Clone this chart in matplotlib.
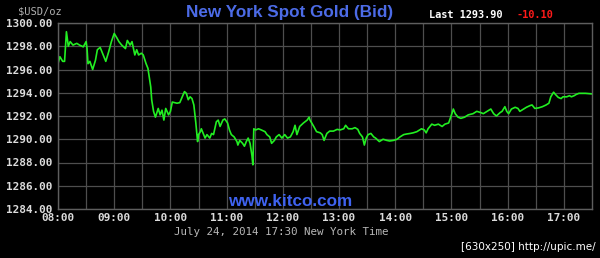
#!/bin/python3

import numpy as np
import matplotlib
matplotlib.use('Agg')
import matplotlib.pyplot as plt

# minutes after 08:00 and bid price
MINUTES = [
    0, 2, 5, 7, 9, 11, 13, 16, 20, 23, 27, 30, 31, 32, 34, 37, 40, 42, 45, 47,
    51, 54, 57, 60, 63, 65, 68, 72, 74, 77, 79, 82, 84, 86, 89, 91, 94, 96, 99, 100,
    102, 104, 107, 109, 111, 113, 115, 118, 120, 122, 127, 130, 135, 137, 139, 141, 143, 145, 147, 149,
    150, 152, 153, 155, 157, 159, 162, 164, 166, 169, 171, 173, 176, 178, 181, 183, 185, 188, 191, 192,
    194, 197, 199, 201, 203, 205, 207, 208, 209, 211, 214, 217, 221, 223, 226, 228, 231, 233, 236, 239,
    242, 245, 248, 251, 253, 255, 258, 262, 266, 268, 269, 273, 276, 280, 282, 284, 287, 290, 294, 298,
    301, 305, 307, 310, 314, 317, 320, 322, 325, 327, 329, 331, 334, 337, 339, 343, 347, 351, 354, 358,
    362, 365, 369, 372, 376, 379, 383, 386, 388, 391, 393, 395, 399, 402, 406, 410, 413, 417, 420, 422,
    424, 427, 430, 434, 438, 443, 447, 451, 454, 458, 462, 465, 468, 472, 474, 477, 479, 481, 484, 488,
    491, 493, 497, 500, 504, 506, 509, 513, 517, 521, 524, 526, 529, 531, 534, 537, 539, 543, 546, 548,
    551, 553, 556, 563, 570,
]
PRICES = [
    1296.5, 1297.1, 1296.7, 1296.7, 1299.25, 1298.0, 1298.4, 1298.1, 1298.25, 1298.1,
    1297.95, 1298.4, 1297.8, 1296.5, 1296.7, 1296.0, 1296.8, 1297.7, 1297.9, 1297.5,
    1296.7, 1297.5, 1298.4, 1299.1, 1298.7, 1298.4, 1298.1, 1297.8, 1298.5, 1298.1,
    1298.4, 1297.25, 1297.7, 1297.25, 1297.4, 1297.25, 1296.5, 1296.1, 1294.5, 1293.4,
    1292.4, 1291.9, 1292.65, 1292.1, 1292.5, 1291.65, 1292.65, 1292.1, 1292.4, 1293.2,
    1293.1, 1293.15, 1294.1, 1293.95, 1293.4, 1293.65, 1293.5, 1292.95, 1291.5, 1289.8,
    1290.4, 1290.65, 1290.9, 1290.5, 1290.1, 1290.4, 1290.1, 1290.5, 1290.4, 1291.5,
    1291.65, 1291.1, 1291.65, 1291.75, 1291.4, 1290.8, 1290.4, 1290.2, 1289.8, 1289.5,
    1289.9, 1289.65, 1289.4, 1289.8, 1290.1, 1289.65, 1288.6, 1287.8, 1290.9, 1290.8,
    1290.9, 1290.8, 1290.65, 1290.4, 1290.2, 1289.65, 1289.9, 1290.2, 1290.4, 1290.1,
    1290.4, 1290.1, 1290.2, 1290.65, 1291.2, 1290.4, 1291.1, 1291.4, 1291.65, 1291.9,
    1291.65, 1291.1, 1290.65, 1290.55, 1290.4, 1289.9, 1290.5, 1290.7, 1290.7, 1290.85,
    1290.8, 1290.9, 1291.2, 1290.9, 1290.9, 1291.0, 1290.85, 1290.5, 1290.2, 1289.5,
    1290.1, 1290.4, 1290.5, 1290.2, 1290.1, 1289.8, 1290.0, 1289.9, 1289.85, 1289.9,
    1290.0, 1290.2, 1290.4, 1290.45, 1290.5, 1290.55, 1290.65, 1290.8, 1290.9, 1290.8,
    1290.55, 1290.9, 1291.3, 1291.2, 1291.3, 1291.1, 1291.3, 1291.4, 1292.1, 1292.6,
    1292.2, 1291.9, 1291.8, 1291.9, 1292.1, 1292.2, 1292.4, 1292.3, 1292.2, 1292.4,
    1292.6, 1292.2, 1292.0, 1292.3, 1292.4, 1292.8, 1292.4, 1292.2, 1292.6, 1292.75,
    1292.65, 1292.4, 1292.6, 1292.75, 1292.9, 1292.95, 1292.65, 1292.7, 1292.8, 1292.95,
    1293.1, 1293.65, 1294.05, 1293.85, 1293.6, 1293.5, 1293.65, 1293.65, 1293.75, 1293.65,
    1293.75, 1293.85, 1293.95, 1293.95, 1293.9,
]

HOUR_LABELS = ['08:00', '09:00', '10:00', '11:00', '12:00',
               '13:00', '14:00', '15:00', '16:00', '17:00']
PRICE_TICKS = [1284, 1286, 1288, 1290, 1292, 1294, 1296, 1298, 1300]

LAST = '1293.90'
CHANGE = '-10.10'

MONO = 'DejaVu Sans Mono'
SANS = 'Liberation Sans'

fig = plt.figure(figsize=(6.0, 2.58), dpi=100, facecolor='black')
ax = fig.add_axes([58 / 600, 1 - 209 / 258, 534 / 600, 186 / 258])
ax.set_facecolor('black')

hours = 8 + np.array(MINUTES) / 60.0
ax.plot(hours, PRICES, color='#22ee22', lw=1.2)

ax.set_xlim(8, 17.5)
ax.set_ylim(1284, 1300)
ax.set_xticks(np.arange(8, 18))
ax.set_xticklabels(HOUR_LABELS)
ax.set_xticks(np.arange(8.5, 17.5, 1.0), minor=True)
ax.set_yticks(PRICE_TICKS)
ax.set_yticklabels([f'{p:.2f}' for p in PRICE_TICKS])

ax.grid(which='both', color='#4e4e4e', lw=0.9)
ax.tick_params(which='both', length=0, colors='#dcdcdc')
ax.tick_params(axis='y', pad=4)
ax.tick_params(axis='x', pad=3)
for lab in ax.get_xticklabels() + ax.get_yticklabels():
    lab.set_family(MONO)
    lab.set_fontweight('bold')
    lab.set_fontsize(7.9)
for s in ax.spines.values():
    s.set_color('#5e5e5e')
    s.set_linewidth(1.0)

fig.text(290 / 600, 1 - 12 / 258, 'New York Spot Gold (Bid)', color='#4c6be6',
         fontsize=12.3, fontweight='bold', family=SANS, ha='center', va='center')
fig.text(18 / 600, 1 - 11 / 258, '$USD/oz', color='#b0b0b0', fontsize=7.5,
         family=MONO, ha='left', va='center')
fig.text(429 / 600, 1 - 15 / 258, f'Last {LAST}', color='white', fontsize=7.4,
         family=MONO, fontweight='bold', ha='left', va='center')
fig.text(517 / 600, 1 - 15 / 258, CHANGE, color='#ff1a1a', fontsize=7.4,
         family=MONO, fontweight='bold', ha='left', va='center')
fig.text(290 / 600, 1 - 202 / 258, 'www.kitco.com', color='#3f63f0',
         fontsize=12.3, fontweight='bold', family=SANS, ha='center', va='center')
fig.text(281 / 600, 1 - 232 / 258, 'July 24, 2014 17:30 New York Time',
         color='#b8b8b8', fontsize=7.8, family=MONO, ha='center', va='center')
fig.text(596 / 600, 1 - 247 / 258, '[630x250] http://upic.me/', color='white',
         fontsize=7.5, family='DejaVu Sans', ha='right', va='center')

fig.savefig('out.png', dpi=100, facecolor='black')
